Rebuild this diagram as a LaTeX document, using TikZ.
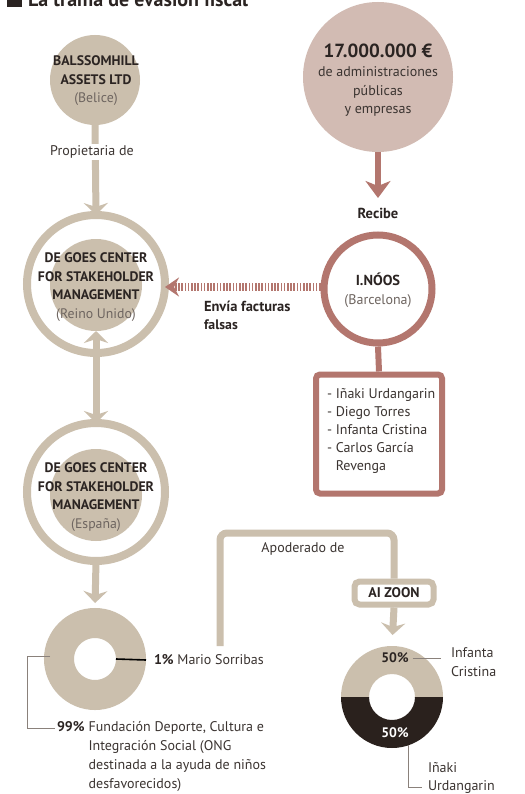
\documentclass[tikz,border=0pt]{standalone}
\usepackage{fontspec}
\setmainfont{PT Sans}
\usetikzlibrary{arrows.meta}
\definecolor{beige}{HTML}{CBBFAD}
\definecolor{rust}{HTML}{B3766E}
\definecolor{pinkc}{HTML}{D2BBB3}
\definecolor{ink}{HTML}{2B2422}
\definecolor{txt}{HTML}{3B3431}
\definecolor{gry}{HTML}{6E6560}
\definecolor{lgry}{HTML}{8A817B}
\definecolor{darkd}{HTML}{2A211D}
\begin{document}
\begin{tikzpicture}[x=1pt,y=-1pt,
  every node/.style={inner sep=0pt, outer sep=0pt},
  base/.style={font=\fontsize{14}{18.5}\selectfont, text=txt, align=center},
  caps/.style={base, text=ink, font=\fontsize{13.8}{18.5}\selectfont\bfseries},
  barr/.style={draw=beige, line width=7pt, -{Stealth[length=12pt,width=24pt,inset=4pt]}},
  rarr/.style={draw=rust, line width=6pt, -{Stealth[length=17pt,width=25pt,inset=5pt]}},
  ring/.style={circle, draw=beige, line width=8pt, minimum size=138pt},
  disc/.style={circle, fill=beige, minimum size=92pt},
  thinl/.style={draw=lgry, line width=0.9pt}
]
\useasboundingbox (0,0) rectangle (524,794);
\clip (0,0) rectangle (524,794);
\fill[white] (0,0) rectangle (524,794);

% title (cut at top)
\node[fill=ink, minimum size=15pt, anchor=south west] (sq) at (7,7) {};
\node[anchor=base west, text=ink, font=\fontsize{20}{20}\selectfont\bfseries] (title) at (28,7) {La trama de evasión fiscal};

% Balssomhill
\node[circle, fill=beige, minimum size=90pt] (bal) at (95,80) {};
\node[caps] (balt) at (96,81) {BALSSOMHILL\\ASSETS LTD\\{\mdseries\color{gry}(Belice)}};

% UK
\node[ring] (uk) at (96,284) {};
\node[disc] (ukin) at (96,285) {};
\node[caps] (ukt) at (96,287) {DE GOES CENTER\\FOR STAKEHOLDER\\MANAGEMENT\\{\mdseries\color{gry}(Reino Unido)}};

% Spain
\node[ring] (es) at (96,492) {};
\node[disc] (esin) at (96,495) {};
\node[caps] (est) at (96,497) {DE GOES CENTER\\FOR STAKEHOLDER\\MANAGEMENT\\{\mdseries\color{gry}(España)}};

% arrows left column
\draw[barr] (bal.south) -- (uk.north);
\node[base, fill=white, inner sep=2pt] (prop) at (92,152) {Propietaria de};
\draw[barr, {Stealth[length=12pt,width=24pt,inset=4pt]}-{Stealth[length=12pt,width=24pt,inset=4pt]}] (ukin.south) -- (es.north);

% left donut
\node[circle, draw=beige, line width=30pt, minimum size=72pt, outer sep=15pt] (d1) at (95,659) {};
\draw[barr, shorten >=5pt] (es.south) -- (d1.north);
\node[base, anchor=west] (mario) at (154,660) {\textbf{\color{ink}1\%} Mario Sorribas};
\coordinate (hole1) at ([xshift=-30pt]d1.east);
\draw[black, line width=1.6pt] (hole1) -- ([xshift=-8pt]mario.west);
\node[base, anchor=north west, align=left] (fund) at (57,719) {%
  \begin{tabular}{@{}l@{\hspace{4pt}}l@{}}
  \textbf{\color{ink}99\%} & Fundación Deporte, Cultura e\\[0.5pt]
   & Integración Social (ONG\\[0.5pt]
   & destinada a la ayuda de niños\\[0.5pt]
   & desfavorecidos)
  \end{tabular}};
\coordinate (b1) at ([xshift=6pt,yshift=3pt]d1.west);
\draw[thinl] (b1) -- (b1 -| 27,0) -- (27,728) -- (55,728);

% 17 000 000
\node[circle, fill=pinkc, minimum size=150pt] (mon) at (378,77) {};
\node[base, text=txt] (mont) at (378,80) {{\fontsize{19}{19}\selectfont\bfseries\color{ink}17.000.000 €}\\[1pt]de administraciones\\públicas\\y empresas};
\coordinate (rtip) at (378,198);
\draw[rarr] (mon.south) -- (rtip);
\node[caps] (recibe) at (378,213) {\fontsize{14.5}{14}\selectfont Recibe};

% I.NOOS
\node[circle, draw=rust, line width=7pt, minimum size=108pt, fill=white, outer sep=3.5pt] (inoos) at (378,289) {};
\node[base] (inoost) at (378,290) {{\fontsize{14.5}{14}\selectfont\bfseries\color{ink}I.NÓOS}\\[1pt]{\color{gry}(Barcelona)}};
\draw[rust, line width=8pt, dash pattern=on 1.6pt off 1.6pt, -{Stealth[length=14pt,width=19pt,inset=5pt]}] (inoos.west |- 0,287) -- (uk.east |- 0,287);
\node[caps, anchor=north west, align=left] (envia) at (204,301) {\fontsize{14.5}{17}\selectfont Envía facturas\\falsas};

% box
\node[draw=rust, line width=6pt, rounded corners=4pt, minimum width=126pt, minimum height=119pt, fill=white, outer sep=3pt] (box) at (379,434) {};
\draw[rust, line width=6pt] (inoos.south) -- (box.north);
\node[base, anchor=north west, align=left, font=\fontsize{14}{18}\selectfont] (boxt) at (327,389) {- Iñaki Urdangarin\\- Diego Torres\\- Infanta Cristina\\- Carlos García\\\phantom{- }Revenga};

% Apoderado / AI ZOON
\node[draw=beige, line width=6pt, rounded corners=5pt, fill=white, minimum width=79pt, minimum height=23pt, font=\fontsize{14}{14}\selectfont\bfseries, text=ink, outer sep=3pt] (aiz) at (394,593) {AI ZOON};
\coordinate (apo) at (220,646);
\coordinate (apotop) at (220,533);
\draw[beige, line width=7pt, rounded corners=7pt] (apo) -- (apotop) -- (apotop -| aiz.north) -- (aiz.north);
\node[base] (apod) at (303,549) {Apoderado de};

% right donut
\node[circle, minimum size=102pt] (d2) at (392,697) {};
\draw[barr, shorten >=11pt] (aiz.south) -- (d2.north);
\begin{scope}
  \clip (330,630) rectangle (460,697);
  \fill[beige, even odd rule] (d2.center) circle[radius=51] circle[radius=23];
\end{scope}
\begin{scope}
  \clip (330,697) rectangle (460,760);
  \fill[darkd, even odd rule] (d2.center) circle[radius=51] circle[radius=23];
\end{scope}
\node[caps] (p1) at (395,658) {50\%};
\node[caps, text=white] (p2) at (395,733) {50\%};
\node[base, anchor=north west, align=left] (cris) at (451,648) {Infanta\\Cristina};
\draw[thinl] ([xshift=4pt]p1.east) -- ([xshift=-10pt]p1.east -| cris.west);
\node[base, anchor=north west, align=left] (inaki) at (428,762) {Iñaki\\Urdangarin};
\coordinate (b2) at (408,745);
\draw[thinl] (b2) -- (408,787) -- (422,787);
\end{tikzpicture}
\end{document}
